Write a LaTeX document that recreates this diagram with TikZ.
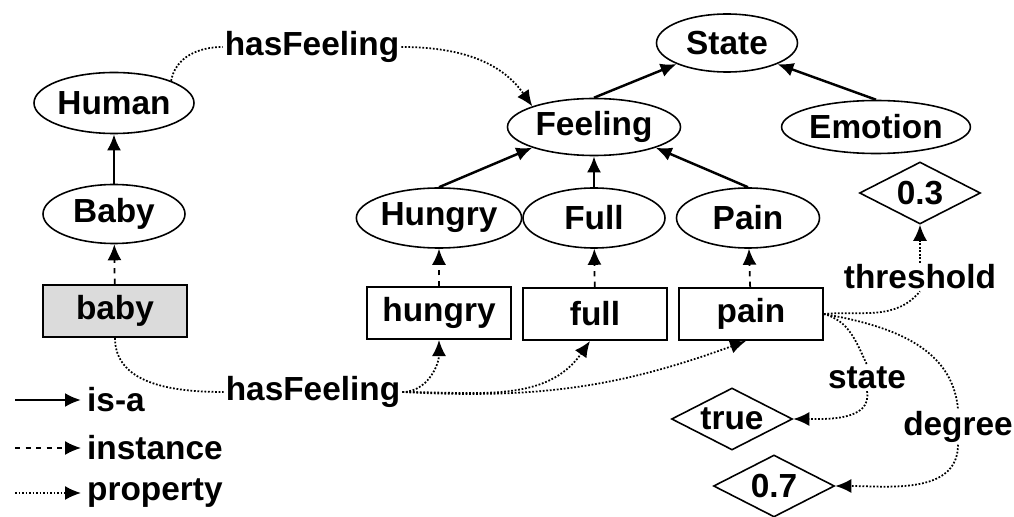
\documentclass[tikz,border=0pt]{standalone}
\usepackage{fontspec}
\setmainfont{Liberation Sans}
\usetikzlibrary{shapes.geometric,arrows.meta}

\begin{document}
\begin{tikzpicture}[
    concept/.style={draw, ellipse, line width=0.9pt, inner sep=0pt, minimum width=2.84cm, minimum height=1.18cm},
    individual/.style={draw, rectangle, line width=0.9pt, inner sep=0pt, minimum width=2.88cm, minimum height=1.05cm},
    literal/.style={draw, diamond, aspect=2, line width=0.9pt, inner sep=0pt, minimum width=2.42cm, minimum height=1.24cm},
    relname/.style={inner sep=1pt},
    isa/.style={-{Latex[length=3.2mm,width=2.8mm]}, line width=1.4pt},
    inst/.style={-{Latex[length=3.2mm,width=2.8mm]}, line width=1pt, dashed},
    prop/.style={-{Latex[length=3.2mm,width=2.8mm]}, line width=1pt, densely dotted},
    propline/.style={line width=1pt, densely dotted},
    font=\fontsize{19}{21}\selectfont\bfseries
]
\useasboundingbox (0,0) rectangle (20.28,-10.34);

\node[concept, minimum width=2.82cm, minimum height=1.16cm] (state) at (14.54,-0.86) {State};
\node[concept, minimum width=3.46cm, minimum height=1.14cm] (feeling) at (11.88,-2.54) {Feeling};
\node[concept, minimum width=3.44cm, minimum height=1.06cm] (emotion) at (17.52,-2.54) {Emotion};
\node[literal] (thr-value) at (18.40,-3.86) {0.3};
\draw[isa] (feeling.north) -- (state.south west);
\draw[isa] (emotion.north) -- (state.south east);

\node[concept, minimum height=1.22cm] (human) at (2.28,-2.06) {Human};
\node[concept] (baby) at (2.28,-4.28) {Baby};
\draw[isa] (baby) -- (human);

\node[concept, minimum height=1.2cm] (hungry) at (8.78,-4.36) {Hungry};
\node[concept, minimum height=1.2cm] (full) at (11.88,-4.36) {Full};
\node[concept, minimum width=2.86cm, minimum height=1.2cm] (pain) at (14.96,-4.36) {Pain};
\draw[isa] (hungry.north) -- (feeling.south west);
\draw[isa] (full.north) -- (feeling.south);
\draw[isa] (pain.north) -- (feeling.south east);

\node[individual, fill=black!14] (baby-ind) at (2.30,-6.22) {baby};
\node[individual] (hungry-ind) at (8.78,-6.26) {hungry};
\node[individual] (full-ind) at (11.90,-6.28) {full};
\node[individual] (pain-ind) at (15.02,-6.28) {pain};
\draw[inst] (baby-ind) -- (baby);
\draw[inst] (hungry-ind) -- (hungry);
\draw[inst] (full-ind) -- (full);
\draw[inst] (pain-ind) -- (pain);

\node[relname] (has-top) at (6.24,-0.94) {hasFeeling};
\draw[propline] (human.north east) to[out=80,in=180] (has-top.west);
\draw[prop] (has-top.east) to[out=0,in=125] (feeling.north west);

\node[relname] (has-bottom) at (6.26,-7.84) {hasFeeling};
\draw[propline] (baby-ind.south) to[out=-90,in=180] (has-bottom.west);
\draw[prop] (has-bottom.east) to[out=0,in=-90] (hungry-ind.south);
\draw[prop] (has-bottom.east) to[out=0,in=-125] ([xshift=-0.1cm]full-ind.south);
\draw[prop] (has-bottom.east) to[out=-3,in=-160] ([xshift=-0.1cm]pain-ind.south);

\node[relname] (threshold) at (18.40,-5.54) {threshold};
\draw[propline] (pain-ind.east) to[out=5,in=-130] (threshold.south);
\draw[prop] (threshold) -- (thr-value);

\node[relname] (state-rel) at (17.34,-7.56) {state};
\node[literal] (state-value) at (14.64,-8.38) {true};
\draw[propline] (pain-ind.east) to[out=-15,in=115] (state-rel.north);
\draw[prop] (state-rel.south) to[out=-80,in=0] (state-value.east);

\node[relname] (degree) at (19.16,-8.54) {degree};
\node[literal] (degree-value) at (15.48,-9.72) {0.7};
\draw[propline] (pain-ind.east) to[out=-10,in=95] (degree.north);
\draw[prop] (degree.south) to[out=-90,in=0] (degree-value.east);

\node[anchor=west] (key-isa) at (1.62,-8.00) {is-a};
\node[anchor=west] (key-inst) at (1.62,-8.96) {instance};
\node[anchor=west] (key-prop) at (1.62,-9.86) {property};
\coordinate (key-isa-start) at (0.30,-8.00);
\coordinate (key-inst-start) at (0.30,-8.96);
\coordinate (key-prop-start) at (0.30,-9.86);
\draw[isa] (key-isa-start) -- (key-isa.west);
\draw[inst] (key-inst-start) -- (key-inst.west);
\draw[prop] (key-prop-start) -- (key-prop.west);
\end{tikzpicture}
\end{document}
